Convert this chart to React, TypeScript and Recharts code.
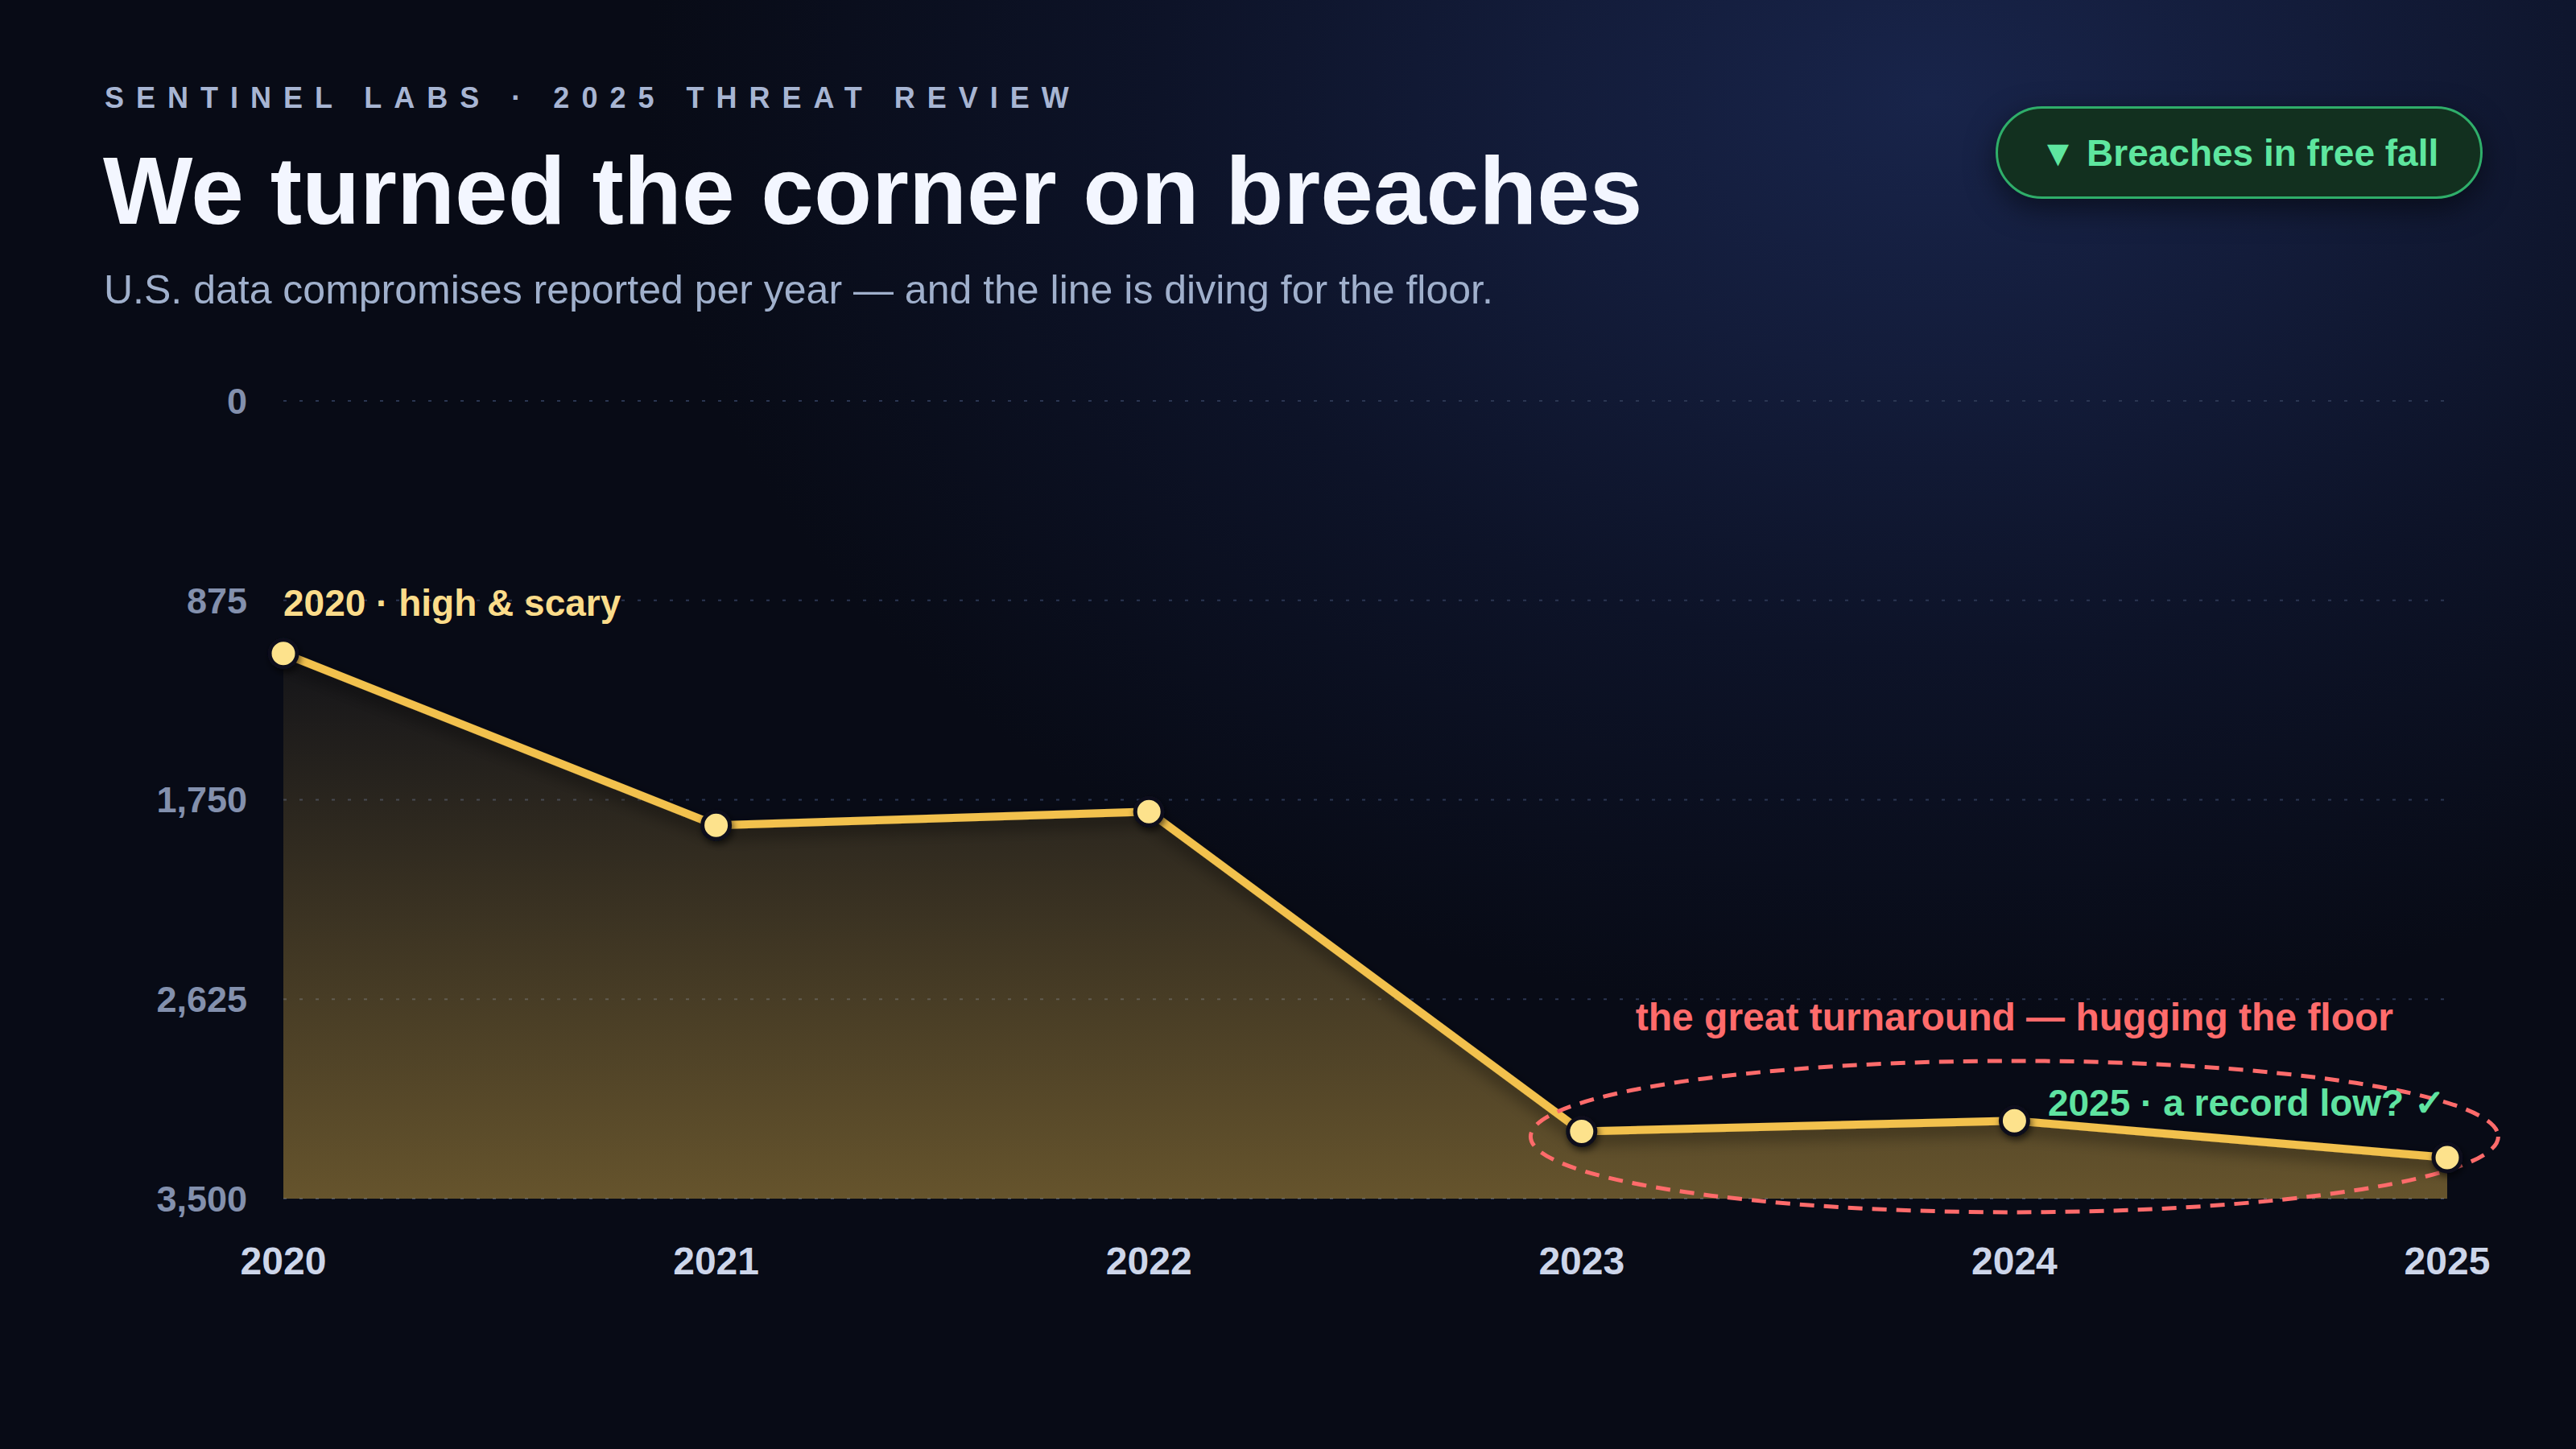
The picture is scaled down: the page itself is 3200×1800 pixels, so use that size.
import React from 'react';
import { ComposedChart, Area, Line, XAxis, YAxis, CartesianGrid, ReferenceDot } from 'recharts';

const years = [2020, 2021, 2022, 2023, 2024, 2025];
const compromises = [1108, 1862, 1802, 3205, 3158, 3320];
const yTicks = [0, 875, 1750, 2625, 3500];

const eyebrow = 'SENTINEL LABS · 2025 THREAT REVIEW';
const title = 'We turned the corner on breaches';
const subtitle = 'U.S. data compromises reported per year — and the line is diving for the floor.';
const badgeText = '▼ Breaches in free fall';
const noteStart = '2020 · high & scary';
const noteTurn = 'the great turnaround — hugging the floor';
const noteEnd = '2025 · a record low? ✓';

const data = years.map((year, i) => ({ year, value: compromises[i] }));
const lastThree = compromises.slice(-3);
const clusterMean = lastThree.reduce((a, b) => a + b, 0) / lastThree.length;

const FONT = '"Liberation Sans", Arial, Helvetica, sans-serif';
const W = 3200;
const H = 1800;

const renderDot = (props: any) => {
  const { cx, cy, index } = props;
  return (
    <circle
      key={`dot-${index}`}
      cx={cx}
      cy={cy}
      r={17}
      fill="#fde28c"
      stroke="#0a0e1a"
      strokeWidth={5}
      filter="url(#dotShadow)"
    />
  );
};

const EllipseShape = (props: any) => {
  const { cx, cy } = props;
  return (
    <g>
      <ellipse
        cx={cx}
        cy={cy}
        rx={601}
        ry={94}
        fill="none"
        stroke="#ff6b6b"
        strokeWidth={5}
        strokeDasharray="18 12"
      />
      <text
        x={cx}
        y={cy - 132}
        textAnchor="middle"
        fill="#ff6b6b"
        fontSize={48}
        fontWeight={700}
        fontFamily={FONT}
      >
        {noteTurn}
      </text>
    </g>
  );
};

const StartNote = (props: any) => {
  const { cx, cy } = props;
  return (
    <text x={cx} y={cy - 47} textAnchor="start" fill="#fbdc8a" fontSize={46} fontWeight={700} fontFamily={FONT}>
      {noteStart}
    </text>
  );
};

const EndNote = (props: any) => {
  const { cx, cy } = props;
  return (
    <text x={cx - 2} y={cy - 52} textAnchor="end" fill="#5fe3a1" fontSize={46} fontWeight={700} fontFamily={FONT}>
      {noteEnd}
    </text>
  );
};

export default function App() {
  return (
    <div
      style={{
        position: 'absolute',
        left: 0,
        top: 0,
        width: W,
        height: H,
        overflow: 'hidden',
        fontFamily: FONT,
        background:
          'radial-gradient(ellipse 1600px 1150px at 2400px 120px, #18244a 0%, #131c3a 30%, #0d1328 60%, #080b16 100%), #080b16',
      }}
    >
      <div
        style={{
          position: 'absolute',
          left: 130,
          top: 104,
          fontSize: 36,
          lineHeight: 1,
          fontWeight: 700,
          letterSpacing: 15,
          color: '#a7b5d3',
          whiteSpace: 'nowrap',
        }}
      >
        {eyebrow}
      </div>
      <div
        style={{
          position: 'absolute',
          left: 128,
          top: 178,
          fontSize: 118,
          lineHeight: 1,
          fontWeight: 700,
          letterSpacing: 0,
          color: '#f3f6ff',
          whiteSpace: 'nowrap',
        }}
      >
        {title}
      </div>
      <div
        style={{
          position: 'absolute',
          left: 129,
          top: 335,
          fontSize: 50,
          lineHeight: 1,
          fontWeight: 400,
          color: '#a0b0cc',
          whiteSpace: 'nowrap',
        }}
      >
        {subtitle}
      </div>
      <div
        style={{
          position: 'absolute',
          left: 2479,
          top: 132,
          width: 605,
          height: 115,
          boxSizing: 'border-box',
          border: '3px solid #2fae6a',
          borderRadius: 58,
          background: '#12301f',
          boxShadow: '0 12px 36px rgba(0,0,0,0.5)',
          display: 'flex',
          alignItems: 'center',
          justifyContent: 'center',
          fontSize: 46,
          fontWeight: 700,
          color: '#5ee69f',
          whiteSpace: 'nowrap',
        }}
      >
        {badgeText}
      </div>

      <div style={{ position: 'absolute', left: 0, top: 0 }}>
        <ComposedChart width={W} height={H} data={data} margin={{ top: 498, right: 160, bottom: 211, left: 152 }}>
          <defs>
            <linearGradient id="areaFill" x1="0" y1="0" x2="0" y2="1">
              <stop offset="0%" stopColor="#f2c14e" stopOpacity={0.05} />
              <stop offset="100%" stopColor="#f2c14e" stopOpacity={0.4} />
            </linearGradient>
            <filter id="lineShadow" x="-10%" y="-20%" width="120%" height="160%">
              <feDropShadow dx="0" dy="8" stdDeviation="10" floodColor="#000000" floodOpacity="0.55" />
            </filter>
            <filter id="dotShadow" x="-100%" y="-100%" width="300%" height="300%">
              <feDropShadow dx="2" dy="4" stdDeviation="4" floodColor="#000000" floodOpacity="0.6" />
            </filter>
          </defs>
          <CartesianGrid vertical={false} stroke="#2b3652" strokeWidth={2} strokeDasharray="4 16" />
          <XAxis
            dataKey="year"
            type="number"
            domain={[2020, 2025]}
            ticks={years}
            height={100}
            axisLine={false}
            tickLine={false}
            tickSize={0}
            tickMargin={60}
            tick={{ fill: '#cdd6ea', fontSize: 48, fontWeight: 700, fontFamily: FONT }}
          />
          <YAxis
            type="number"
            domain={[0, 3500]}
            ticks={yTicks}
            reversed
            width={200}
            axisLine={false}
            tickLine={false}
            tickSize={0}
            tickMargin={45}
            tickFormatter={(v: number) => v.toLocaleString('en-US')}
            tick={{ fill: '#8390ad', fontSize: 45, fontWeight: 700, fontFamily: FONT }}
          />
          <Area
            type="linear"
            dataKey="value"
            baseValue={3500}
            stroke="none"
            fill="url(#areaFill)"
            fillOpacity={1}
            isAnimationActive={false}
            dot={false}
            activeDot={false}
          />
          <ReferenceDot x={years[4]} y={clusterMean} r={0} shape={EllipseShape} />
          <Line
            type="linear"
            dataKey="value"
            stroke="#f2c14e"
            strokeWidth={10}
            strokeLinejoin="round"
            filter="url(#lineShadow)"
            dot={renderDot}
            activeDot={false}
            isAnimationActive={false}
          />
          <ReferenceDot x={years[0]} y={compromises[0]} r={0} shape={StartNote} />
          <ReferenceDot x={years[5]} y={compromises[5]} r={0} shape={EndNote} />
        </ComposedChart>
      </div>
    </div>
  );
}
